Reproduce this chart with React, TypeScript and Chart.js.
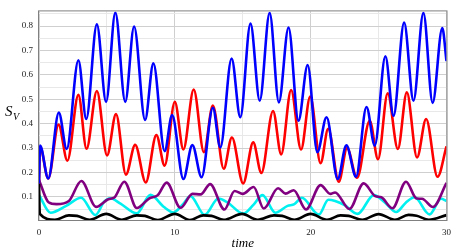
import React, { useEffect, useRef } from 'react';
import { Chart, registerables } from 'chart.js';

Chart.register(...registerables);

// ---- data (time, value) ----
const blueT = [0, 0.08, 0.68, 1.46, 2.04, 2.9, 3.48, 4.26, 4.94, 5.62, 6.35, 7.0, 7.81, 8.42, 9.25, 9.8, 10.63, 11.29, 11.97, 12.8, 13.35, 14.18, 14.82, 15.57, 16.25, 16.98, 17.66, 18.37, 19.1, 19.78, 20.49, 21.17, 21.99, 22.63, 23.34, 24.11, 24.72, 25.5, 26.1, 26.88, 27.57, 28.3, 28.98, 29.69, 30];
const blueV = [0.155, 0.31, 0.175, 0.445, 0.296, 0.66, 0.419, 0.807, 0.489, 0.855, 0.489, 0.798, 0.415, 0.647, 0.287, 0.435, 0.173, 0.312, 0.18, 0.465, 0.302, 0.667, 0.426, 0.81, 0.494, 0.854, 0.487, 0.794, 0.412, 0.64, 0.283, 0.426, 0.173, 0.311, 0.182, 0.468, 0.31, 0.676, 0.432, 0.814, 0.494, 0.854, 0.485, 0.792, 0.656];

const redT = [0, 0.08, 0.68, 1.44, 2.09, 2.9, 3.5, 4.26, 5.01, 5.67, 6.4, 7.08, 7.86, 8.64, 9.25, 10.0, 10.63, 11.39, 12.14, 12.8, 13.6, 14.2, 15.03, 15.77, 16.37, 17.23, 17.83, 18.56, 19.29, 19.97, 20.73, 21.29, 22.07, 22.68, 23.41, 24.35, 24.96, 25.67, 26.42, 27.08, 27.83, 28.5, 29.34, 30];
const redV = [0.155, 0.305, 0.175, 0.396, 0.248, 0.518, 0.297, 0.534, 0.27, 0.439, 0.191, 0.313, 0.159, 0.353, 0.228, 0.489, 0.294, 0.54, 0.283, 0.474, 0.215, 0.343, 0.155, 0.323, 0.198, 0.452, 0.274, 0.538, 0.294, 0.511, 0.238, 0.379, 0.162, 0.3, 0.178, 0.412, 0.254, 0.524, 0.296, 0.528, 0.261, 0.419, 0.182, 0.307];

const purpleT = [0, 0.7, 1.3, 2.2, 3.12, 4.2, 5.1, 5.55, 6.28, 7.2, 8.1, 8.75, 9.4, 10.42, 11.3, 11.9, 12.6, 13.65, 14.4, 15.0, 15.8, 16.55, 17.6, 18.15, 18.75, 19.66, 20.73, 21.45, 21.8, 22.85, 23.9, 24.75, 25.2, 26.02, 27.02, 27.8, 28.2, 29.0, 30];
const purpleV = [0.169, 0.078, 0.07, 0.083, 0.165, 0.059, 0.09, 0.097, 0.162, 0.054, 0.093, 0.107, 0.158, 0.055, 0.112, 0.11, 0.152, 0.048, 0.124, 0.112, 0.14, 0.052, 0.135, 0.113, 0.127, 0.048, 0.148, 0.112, 0.118, 0.05, 0.155, 0.103, 0.098, 0.053, 0.162, 0.093, 0.092, 0.058, 0.157];

const cyanT = [0, 0.85, 2.0, 3.1, 4.15, 4.8, 5.25, 6.0, 7.2, 8.2, 9.2, 9.9, 10.6, 11.15, 12.2, 13.2, 13.9, 15.04, 15.8, 16.45, 17.4, 18.3, 18.8, 19.35, 20.6, 21.3, 21.8, 22.5, 23.45, 24.65, 25.5, 26.3, 27.0, 27.65, 28.75, 29.6, 30];
const cyanV = [0.108, 0.035, 0.063, 0.096, 0.025, 0.08, 0.094, 0.072, 0.032, 0.108, 0.058, 0.036, 0.07, 0.103, 0.026, 0.093, 0.076, 0.031, 0.068, 0.107, 0.035, 0.063, 0.07, 0.096, 0.027, 0.088, 0.083, 0.066, 0.03, 0.107, 0.075, 0.038, 0.076, 0.098, 0.028, 0.092, 0.083];

const blackT = [0, 0.06, 1.17, 2.2, 2.8, 3.72, 4.95, 6.1, 7.2, 7.8, 8.75, 10.0, 11.1, 12.1, 12.7, 13.6, 14.95, 16.1, 17.3, 17.9, 18.8, 20.0, 21.2, 22.2, 22.8, 23.8, 25.0, 26.2, 27.2, 27.8, 28.7, 30];
const blackV = [0.155, 0.03, 0.006, 0.024, 0.022, 0.006, 0.03, 0.006, 0.024, 0.022, 0.005, 0.03, 0.005, 0.024, 0.022, 0.006, 0.03, 0.006, 0.024, 0.022, 0.006, 0.03, 0.006, 0.024, 0.022, 0.006, 0.029, 0.006, 0.026, 0.022, 0.006, 0.025];

const xTicks = [0, 5, 10, 15, 20, 25, 30];
const xLabels = [0, 10, 20, 30];
const yTicks = [0.05, 0.1, 0.15, 0.2, 0.25, 0.3, 0.35, 0.4, 0.45, 0.5, 0.55, 0.6, 0.65, 0.7, 0.75, 0.8, 0.85];
const yLabels = [0.1, 0.2, 0.3, 0.4, 0.5, 0.6, 0.7, 0.8];

const pts = (t: number[], v: number[]) => t.map((x, i) => ({ x, y: v[i] }));
const isIn = (arr: number[], v: number) => arr.some((a) => Math.abs(a - v) < 1e-6);

const framePlugin = {
  id: 'frameAndLabel',
  afterDatasetsDraw(chart: any) {
    const { ctx, chartArea: a } = chart;
    ctx.save();
    ctx.strokeStyle = '#808080';
    ctx.lineWidth = 1;
    ctx.strokeRect(a.left - 0.5, a.top - 0.5, a.right - a.left + 1, a.bottom - a.top + 1);
    ctx.fillStyle = '#000';
    ctx.textBaseline = 'alphabetic';
    ctx.textAlign = 'left';
    ctx.font = 'italic 15px "Liberation Serif"';
    ctx.fillText('S', 5, 116);
    ctx.font = 'italic 10px "Liberation Serif"';
    ctx.fillText('V', 13, 120);
    ctx.restore();
  },
};

export default function App() {
  const ref = useRef<HTMLCanvasElement | null>(null);
  useEffect(() => {
    if (!ref.current) return;
    const line = (label: string, color: string, t: number[], v: number[]) => ({
      label,
      data: pts(t, v),
      borderColor: color,
      backgroundColor: color,
      borderWidth: 2.6,
      pointRadius: 0,
      fill: false,
      cubicInterpolationMode: 'monotone' as const,
    });
    const chart = new Chart(ref.current, {
      type: 'line',
      data: {
        datasets: [
          line('blue', '#0000ff', blueT, blueV),
          line('red', '#ff0000', redT, redV),
          line('black', '#000000', blackT, blackV),
          line('purple', '#800080', purpleT, purpleV),
          line('cyan', '#00f0f0', cyanT, cyanV),
        ],
      },
      options: {
        animation: false,
        responsive: false,
        devicePixelRatio: 1,
        layout: { padding: { top: 4, right: 8, left: 0, bottom: 0 } },
        plugins: { legend: { display: false }, tooltip: { enabled: false } },
        scales: {
          x: {
            type: 'linear',
            min: 0,
            max: 30,
            afterFit: (s: any) => { s.height = 32; },
            afterBuildTicks: (s: any) => { s.ticks = xTicks.map((value) => ({ value })); },
            border: { display: false },
            grid: {
              drawTicks: false,
              color: (c: any) => (c.tick && c.tick.value % 10 === 0 ? '#cfcfcf' : '#e8e8e8'),
              lineWidth: 1,
            },
            ticks: {
              padding: 7,
              color: '#222',
              font: { family: '"Liberation Serif"', size: 9 },
              maxRotation: 0,
              autoSkip: false,
              callback: (v: any) => (isIn(xLabels, Number(v)) ? String(v) : ''),
            },
            title: {
              display: true,
              text: 'time',
              color: '#000',
              font: { family: '"Liberation Serif"', size: 13, style: 'italic' },
              padding: { top: 0, bottom: 1 },
            },
          },
          y: {
            type: 'linear',
            min: 0.005,
            max: 0.86,
            afterFit: (s: any) => { s.width = 39; },
            afterBuildTicks: (s: any) => { s.ticks = yTicks.map((value) => ({ value })); },
            border: { display: false },
            grid: {
              drawTicks: false,
              color: (c: any) => (c.tick && isIn(yLabels, c.tick.value) ? '#cfcfcf' : '#e8e8e8'),
              lineWidth: 1,
            },
            ticks: {
              padding: 6,
              color: '#222',
              font: { family: '"Liberation Serif"', size: 9 },
              autoSkip: false,
              callback: (v: any) => (isIn(yLabels, Number(v)) ? Number(v).toFixed(1) : ''),
            },
          },
        },
      },
      plugins: [framePlugin],
    });
    return () => chart.destroy();
  }, []);
  return (
    <div style={{ position: 'fixed', left: 0, top: 0, width: 458, height: 252, background: '#fff' }}>
      <canvas ref={ref} width={458} height={252} />
    </div>
  );
}
